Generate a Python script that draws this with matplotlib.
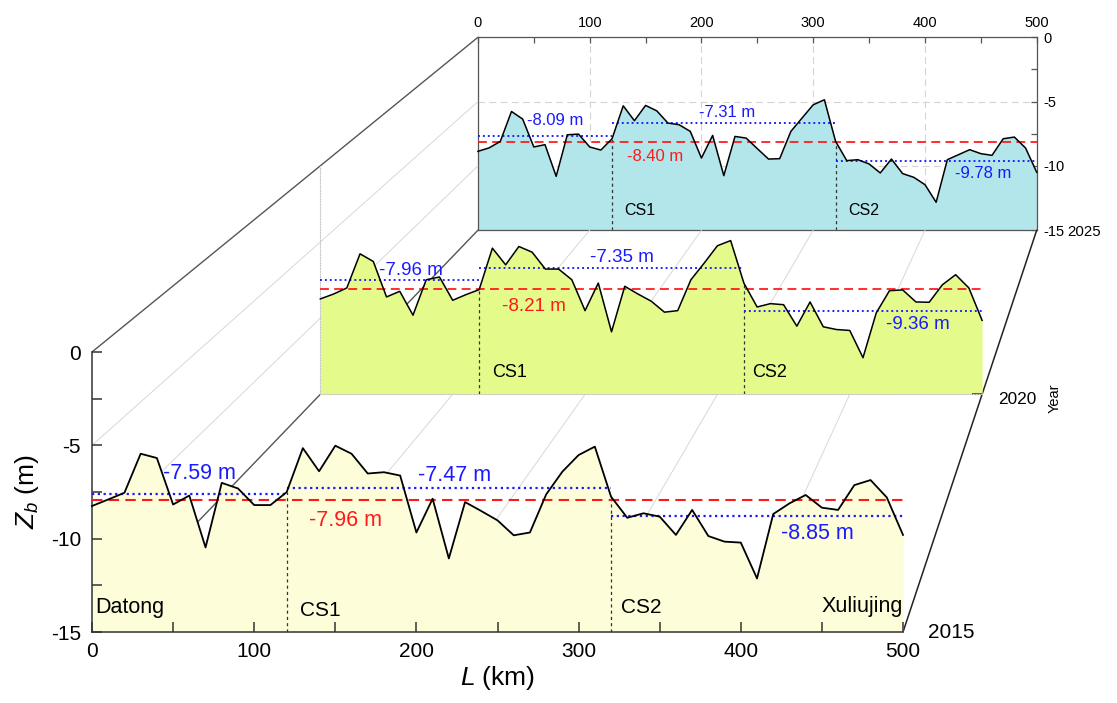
import numpy as np
import matplotlib
matplotlib.use("Agg")
import matplotlib.pyplot as plt
from matplotlib.patches import ConnectionPatch
from matplotlib.ticker import MultipleLocator

plt.rcParams['font.family'] = ['Liberation Sans', 'DejaVu Sans']
plt.rcParams['mathtext.fontset'] = 'custom'
plt.rcParams['mathtext.rm'] = 'Liberation Sans'
plt.rcParams['mathtext.it'] = 'Liberation Sans:italic'
plt.rcParams['axes.unicode_minus'] = False

# ---- data ----
L = np.arange(0, 501, 10)

zb_2015 = [-8.25, -7.90, -7.54, -5.45, -5.68, -8.17, -7.69, -10.47, -7.01, -7.31,
           -8.20, -8.20, -7.51, -5.15, -6.39, -5.02, -5.45, -6.51, -6.44, -6.62,
           -9.67, -7.86, -11.06, -8.04, -8.52, -9.02, -9.82, -9.67, -7.63, -6.41,
           -5.52, -5.07, -7.75, -8.88, -8.64, -8.82, -9.80, -8.46, -9.86, -10.16,
           -10.21, -12.13, -8.68, -8.11, -7.66, -8.34, -8.46, -7.13, -6.86, -7.79,
           -9.80]
zb_2020 = [-8.74, -8.42, -8.02, -5.78, -6.28, -8.61, -8.24, -9.81, -7.48, -7.30,
           -8.83, -8.46, -8.13, -5.41, -6.50, -5.30, -5.67, -6.78, -6.78, -7.48,
           -9.51, -7.70, -10.90, -7.91, -8.42, -8.89, -9.61, -9.51, -7.48, -6.39,
           -5.25, -4.91, -7.70, -9.27, -9.05, -9.12, -10.53, -8.94, -10.57, -10.75,
           -10.81, -12.60, -9.66, -8.20, -8.15, -8.94, -8.96, -7.81, -7.15, -8.02,
           -10.15]
zb_2025 = [-8.87, -8.60, -8.10, -5.77, -6.36, -8.53, -8.35, -10.81, -7.58, -7.53,
           -8.53, -8.77, -7.89, -5.33, -6.49, -5.30, -5.72, -6.67, -6.80, -7.32,
           -9.39, -7.63, -10.76, -7.71, -7.84, -8.66, -9.47, -9.44, -7.32, -6.28,
           -5.25, -4.86, -8.09, -9.59, -9.52, -9.85, -10.55, -9.47, -10.60, -10.89,
           -11.46, -12.83, -9.52, -9.13, -8.74, -9.05, -9.18, -7.89, -7.76, -8.61,
           -10.50]

years = [2015, 2020, 2025]
reach_edges = [0, 120, 320, 500]
cs_pos = [120, 320]

# mean levels as drawn (whole river / per reach) and their printed labels
mean_all = [-7.95, -8.10, -8.15]
mean_reach = [[-7.60, -7.28, -8.77],
              [-7.50, -6.74, -9.52],
              [-7.66, -6.67, -9.65]]
label_all = ["-7.96 m", "-8.21 m", "-8.40 m"]
label_reach = [["-7.59 m", "-7.47 m", "-8.85 m"],
               ["-7.96 m", "-7.35 m", "-9.36 m"],
               ["-8.09 m", "-7.31 m", "-9.78 m"]]

# ---- layout ----
W, H = 1117, 703
fig = plt.figure(figsize=(W / 100, H / 100), dpi=100)

front_left, front_bottom, front_w, front_h = 92, 632, 811, 280
vp = (1333, -660)                      # vanishing point in pixels
scales = [1.0, 0.816, 0.689]
fills = ['#fdfdd9', '#e4fa8a', '#b3e6eb']
txt_sizes = [15.5, 13.5, 12]
year_sizes = [15, 12.4, 10.8]
year_offsets = [(18, 0), (11.5, -3.6), (22, -1.5)]

# label positions (L, z) for: reach labels, overall label, CS1, CS2
reach_lab_pos = [[(44, -6.5), (201, -6.6), (425, -9.7)],
                 [(44, -6.9), (204, -6.05), (427, -10.4)],
                 [(44, -6.45), (198, -5.85), (427, -10.6)]]
all_lab_pos = [(134, -9.0), (137, -9.25), (133, -9.25)]
cs_lab_pos = [[(128, -13.85), (326, -13.7)],
              [(130, -13.6), (326, -13.6)],
              [(131, -13.45), (331, -13.45)]]

axes = []
for i, (s, year) in enumerate(zip(scales, years)):
    x0 = vp[0] + (front_left - vp[0]) * s
    yb = vp[1] + (front_bottom - vp[1]) * s
    ax = fig.add_axes([x0 / W, 1 - yb / H, front_w * s / W, front_h * s / H])
    ax.set_zorder(3 - i)
    ax.set_facecolor('none')
    ax.set_xlim(0, 500)
    ax.set_ylim(-15, 0)
    axes.append(ax)

ax_f, ax_m, ax_b = axes

for i, (ax, z) in enumerate(zip(axes, [zb_2015, zb_2020, zb_2025])):
    s = scales[i]
    ax.fill_between(L, z, -15, color=fills[i], lw=0, zorder=1)
    ax.plot(L, z, color='black', lw=1.3 * max(s, 0.85), zorder=4, clip_on=False)
    ax.axhline(mean_all[i], color='#ff1a1a', lw=1.5 * max(s, 0.85),
               ls=(0, (5, 3)), zorder=3)
    for k in range(3):
        ax.hlines(mean_reach[i][k], reach_edges[k], reach_edges[k + 1],
                  color='#1a1aff', lw=1.6 * max(s, 0.85), ls=(0, (1, 1.6)), zorder=3)
        ax.text(*reach_lab_pos[i][k], label_reach[i][k], color='#1a1aff',
                fontsize=txt_sizes[i], ha='left', va='center', zorder=5)
    ax.text(*all_lab_pos[i], label_all[i], color='#ff1a1a',
            fontsize=txt_sizes[i], ha='left', va='center', zorder=5)
    ax.vlines(cs_pos, -15, np.interp(cs_pos, L, z), color='#333333',
              lw=0.9, ls=(0, (2.5, 2.5)), zorder=2)
    for k, name in enumerate(['CS1', 'CS2']):
        ax.text(*cs_lab_pos[i][k], name, fontsize=txt_sizes[i] - 0.5,
                ha='left', va='center', zorder=5)
    ax.annotate(str(years[i]), xy=(500, -15), xycoords='data',
                xytext=year_offsets[i], textcoords='offset points',
                ha='left', va='center', fontsize=year_sizes[i],
                annotation_clip=False)

# front panel axes
ax_f.text(2, -13.7, 'Datong', fontsize=15.5, ha='left', va='center', zorder=5)
ax_f.text(500, -13.65, 'Xuliujing', fontsize=15.5, ha='right', va='center', zorder=5)
for side in ['top', 'right']:
    ax_f.spines[side].set_visible(False)
for side in ['left', 'bottom']:
    ax_f.spines[side].set_color('#333333')
    ax_f.spines[side].set_linewidth(1.1)
ax_f.xaxis.set_major_locator(MultipleLocator(100))
ax_f.xaxis.set_minor_locator(MultipleLocator(50))
ax_f.yaxis.set_major_locator(MultipleLocator(5))
ax_f.yaxis.set_minor_locator(MultipleLocator(2.5))
ax_f.tick_params(which='both', direction='in', length=7, width=1.1,
                 color='#333333', labelsize=15)
ax_f.tick_params(axis='x', pad=7)
ax_f.tick_params(axis='y', pad=8)
ax_f.set_xlabel(r'$L$ (km)', fontsize=19, labelpad=2)
ax_f.set_ylabel(r'$Z_b$ (m)', fontsize=19, labelpad=7)

# middle panel
ax_m.set_xticks([])
ax_m.yaxis.tick_right()
ax_m.set_yticks([-15])
ax_m.tick_params(axis='y', direction='in', length=7, width=1.1,
                 color='#333333', labelright=False)
for side in ['top', 'right']:
    ax_m.spines[side].set_visible(False)
for side in ['left', 'bottom']:
    ax_m.spines[side].set_color('#c8c8c8')
    ax_m.spines[side].set_linestyle((0, (1, 1.5)))
    ax_m.spines[side].set_linewidth(0.8)
ax_m.annotate('Year', xy=(500, -15), xycoords='data', xytext=(52.5, -3),
              textcoords='offset points', ha='center', va='center',
              rotation=90, fontsize=10.5, annotation_clip=False)

# back panel
ax_b.xaxis.tick_top()
ax_b.yaxis.tick_right()
ax_b.xaxis.set_major_locator(MultipleLocator(100))
ax_b.xaxis.set_minor_locator(MultipleLocator(50))
ax_b.yaxis.set_major_locator(MultipleLocator(5))
ax_b.yaxis.set_minor_locator(MultipleLocator(2.5))
ax_b.tick_params(which='both', direction='in', length=4, width=0.9,
                 color='#555555', labelsize=10.5)
ax_b.tick_params(axis='x', pad=5)
ax_b.tick_params(axis='y', pad=5)
for side in ax_b.spines:
    ax_b.spines[side].set_color('#555555')
    ax_b.spines[side].set_linewidth(0.9)
ax_b.set_axisbelow(True)
ax_b.grid(True, which='major', color='#d4d4d4', lw=0.8, ls=(0, (6, 4)))

# box edges and wall / floor grid lines between the front and back panels
def connect(xy, color, lw):
    con = ConnectionPatch(xyA=xy, coordsA=ax_f.transData,
                          xyB=xy, coordsB=ax_b.transData,
                          color=color, lw=lw)
    con.set_zorder(1.5)
    fig.add_artist(con)

for x in [100, 200, 300, 400]:
    connect((x, -15), '#d8d8d8', 0.7)
for zz in [-5, -10]:
    connect((0, zz), '#d8d8d8', 0.7)
connect((0, 0), '#555555', 1.0)
connect((0, -15), '#555555', 1.0)
connect((500, -15), '#222222', 1.1)

fig.savefig('out.png', dpi=100)
